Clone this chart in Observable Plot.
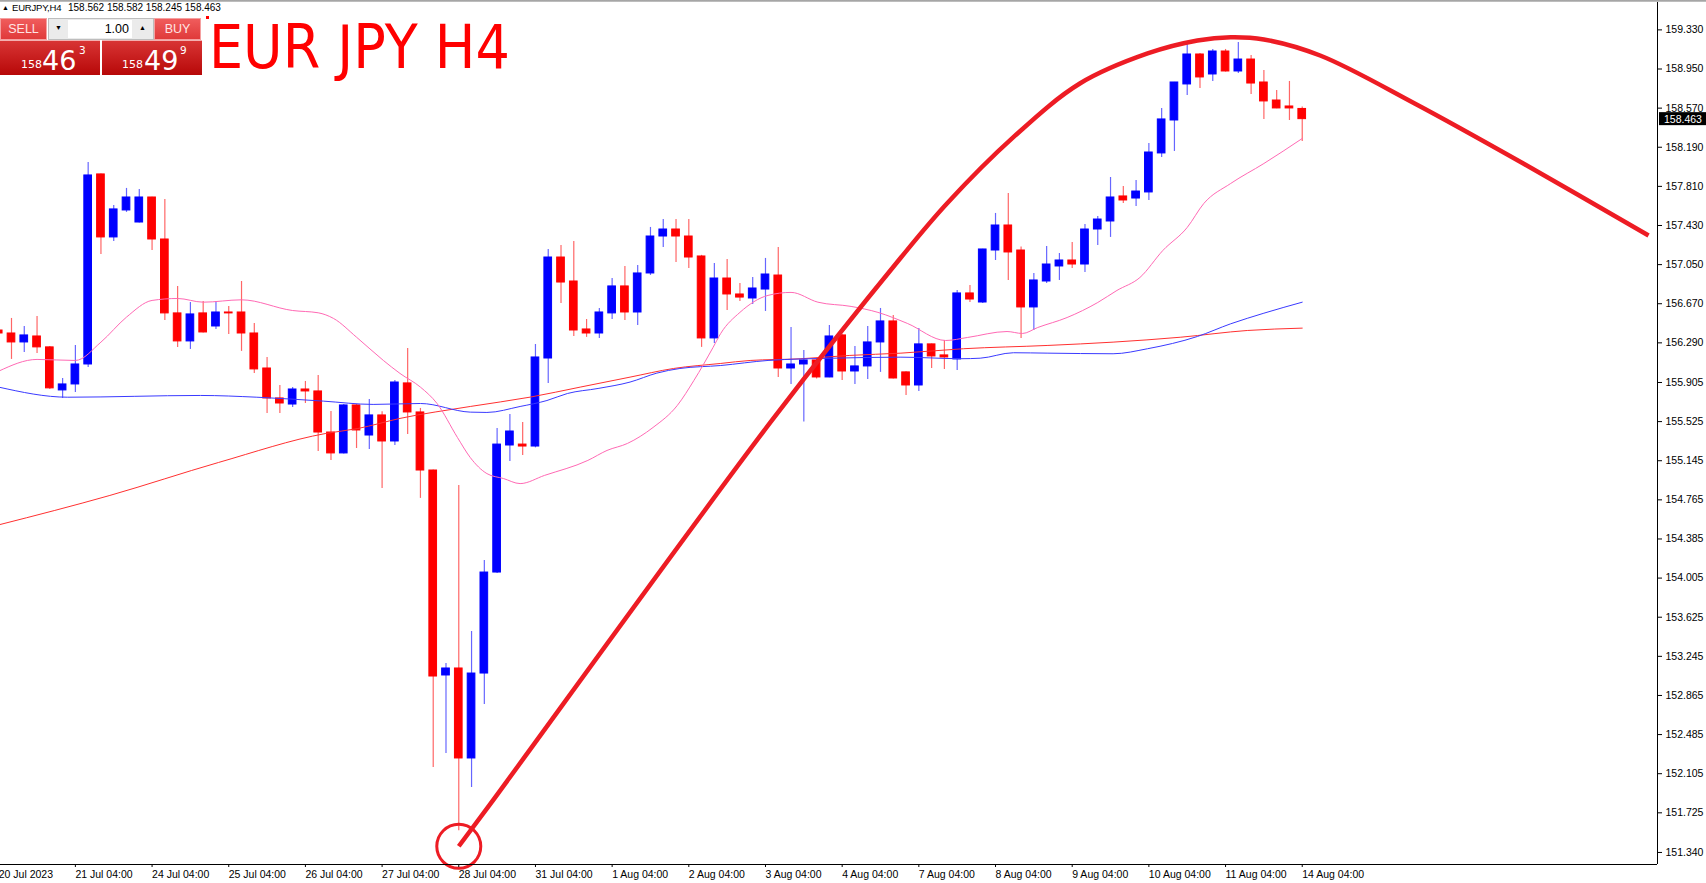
<!DOCTYPE html>
<html><head><meta charset="utf-8">
<script src="https://cdn.jsdelivr.net/npm/d3@7"></script>
<script src="https://cdn.jsdelivr.net/npm/@observablehq/plot@0.6"></script>
<style>
html,body{margin:0;padding:0;background:#fff;}
#wrap{position:relative;width:1706px;height:883px;overflow:hidden;background:#fff;font-family:"Liberation Sans",Arial,sans-serif;}
#wrap svg{position:absolute;left:0;top:0;}
.abs{position:absolute;white-space:nowrap;line-height:1;}
.topline{position:absolute;left:0;top:0;width:1706px;height:2px;background:linear-gradient(#9a9a9a,#c8c8c8);}
.hdr{font-size:10px;color:#000;top:3px;}
.btn{position:absolute;top:18px;height:22px;width:47px;background:linear-gradient(#f05c5c,#e03a3a);color:#ffe4e4;font-size:12.5px;text-align:center;line-height:21px;box-sizing:border-box;border:1px solid #f5a0a0;}
.lot{position:absolute;left:48px;top:18px;width:106px;height:22px;background:#ebebeb;border:1px solid #bdbdbd;box-sizing:border-box;}
.lotin{position:absolute;left:19px;top:1px;width:64px;height:18px;background:#fff;font-size:12.5px;text-align:right;line-height:19px;box-sizing:border-box;padding-right:3px;color:#000;}
.arr{position:absolute;top:5px;font-size:7px;color:#000;}
.price{position:absolute;top:40px;height:35px;width:100px;background:linear-gradient(#d83434,#b70808);color:#fff;border-top:1px solid #f3b0b0;box-sizing:border-box;font-family:"DejaVu Sans","Liberation Sans",sans-serif;}
.title{font-family:"DejaVu Sans","Liberation Sans",sans-serif;font-size:60px;color:#ff0000;left:209px;top:17px;transform:scaleX(0.9);transform-origin:0 0;}
.dot{position:absolute;left:206px;top:16px;width:3px;height:3px;background:#ff0000;}
</style></head><body>
<div id="wrap"></div>
<script>
// ---- candle data (EURJPY H4, 20 Jul 2023 04:00 .. 14 Aug 2023 04:00) ----
const open  = [156.410,156.381,156.294,156.352,156.246,155.828,155.886,156.080,157.926,157.314,157.576,157.459,157.702,157.294,156.576,156.304,156.576,156.449,156.585,156.585,156.381,156.041,155.750,155.691,155.837,155.818,155.419,155.216,155.682,155.390,155.585,155.332,155.896,155.614,155.050,153.059,153.127,152.253,153.078,154.059,155.293,155.302,155.283,156.138,157.119,156.886,156.420,156.381,156.576,156.838,156.585,156.964,157.323,157.391,157.323,157.129,156.333,156.915,156.760,156.721,156.808,156.944,156.041,156.080,156.119,155.954,156.362,156.012,156.061,156.294,156.498,156.003,155.876,156.275,156.168,156.129,156.770,156.682,157.187,157.430,157.187,156.634,156.886,157.032,157.090,157.051,157.391,157.469,157.712,157.692,157.751,158.130,158.450,158.800,159.091,158.897,159.120,158.926,159.042,158.819,158.644,158.586,158.562];
const high  = [156.430,156.527,156.449,156.546,156.255,155.944,156.265,158.042,157.930,157.625,157.790,157.780,157.705,157.683,156.838,156.682,156.692,156.692,156.643,156.886,156.478,156.148,155.876,155.857,155.915,155.973,155.624,155.690,155.690,155.740,155.620,155.925,156.236,155.653,155.055,153.175,154.905,153.486,154.176,155.458,155.595,155.517,156.274,157.197,157.236,157.275,156.517,156.624,156.915,157.032,157.042,157.411,157.488,157.488,157.488,157.140,157.061,157.100,156.867,156.925,157.110,157.216,156.439,156.216,156.140,156.459,156.370,156.255,156.449,156.624,156.556,156.010,156.430,156.280,156.313,156.799,156.847,157.200,157.547,157.741,157.220,156.964,157.226,157.158,157.265,157.440,157.517,157.896,157.809,157.867,158.227,158.567,158.820,159.198,159.100,159.140,159.140,159.208,159.081,158.936,158.741,158.829,158.582];
const low   = [156.360,156.129,156.197,156.187,155.838,155.750,155.808,156.051,157.149,157.275,157.557,157.455,157.187,156.508,156.246,156.226,156.385,156.420,156.372,156.207,155.993,155.604,155.604,155.662,155.701,155.235,155.148,155.210,155.264,155.254,154.876,155.293,155.400,154.779,152.166,152.302,151.550,151.971,152.777,154.050,155.138,155.196,155.270,155.896,156.672,156.352,156.343,156.333,156.517,156.508,156.459,156.945,157.216,157.071,157.013,156.246,156.284,156.604,156.692,156.663,156.595,155.954,155.886,155.520,155.940,155.950,155.925,155.886,155.935,156.003,155.940,155.779,155.818,156.041,156.032,156.022,156.682,156.672,157.090,156.896,156.333,156.410,156.867,156.896,157.013,156.974,157.236,157.314,157.644,157.615,157.673,158.091,158.149,158.693,158.761,158.829,158.920,158.906,158.703,158.460,158.563,158.450,158.245];
const close = [156.381,156.294,156.362,156.246,155.848,155.886,156.080,157.916,157.314,157.586,157.702,157.702,157.294,156.576,156.304,156.566,156.391,156.585,156.576,156.381,156.032,155.750,155.701,155.837,155.818,155.419,155.216,155.682,155.439,155.585,155.332,155.905,155.614,155.050,153.049,153.127,152.253,153.078,154.059,155.302,155.429,155.283,156.148,157.119,156.876,156.410,156.381,156.585,156.838,156.585,156.964,157.323,157.391,157.323,157.119,156.333,156.915,156.760,156.730,156.818,156.954,156.041,156.080,156.119,155.954,156.352,156.012,156.061,156.294,156.498,155.944,155.876,156.275,156.158,156.148,156.770,156.711,157.197,157.430,157.168,156.634,156.896,157.051,157.090,157.051,157.391,157.488,157.702,157.673,157.760,158.139,158.460,158.819,159.091,158.868,159.120,158.926,159.042,158.809,158.635,158.567,158.567,158.463];

// ---- moving averages (bar index, price) ----
const pinkIdx = [0,3,6,8,10,12,14,16,19,23,25,26.2,28,30.1,31.4,33,34.3,35.9,36.9,38.2,39.5,40.8,42.7,46.1,47.6,49.2,51.2,53.1,54.4,55.9,56.5,58,60.2,62,64.1,66.7,68.8,71.1,74.1,75.8,78.9,80.1,81.3,83.6,86,87.5,89.3,91.1,93,94.3,96.4,99,102];
const pinkVal = [156.015,156.129,156.119,156.297,156.540,156.702,156.721,156.685,156.708,156.604,156.582,156.527,156.345,156.119,155.993,155.860,155.701,155.370,155.176,155.020,154.972,154.923,155.002,155.148,155.245,155.313,155.468,155.682,155.925,156.246,156.382,156.586,156.751,156.780,156.685,156.644,156.586,156.479,156.313,156.342,156.400,156.381,156.439,156.536,156.682,156.799,156.925,157.188,157.411,157.644,157.838,158.032,158.275];
const blueIdx = [0,5.4,15.8,20.2,25.4,29.3,33,36.9,38.2,40.8,42.9,44.5,46.9,49.4,51.5,53.3,56.5,60.2,65.3,70.6,75.3,76.8,79.4,82.1,87.2,89.9,93.8,96.4,99,102];
const blueVal = [155.860,155.762,155.779,155.762,155.724,155.692,155.701,155.617,155.614,155.672,155.730,155.798,155.847,155.909,155.996,156.041,156.070,156.119,156.141,156.151,156.136,156.141,156.194,156.190,156.184,156.233,156.352,156.475,156.578,156.685];
const redIdx  = [0,8.7,17.2,25.6,28.1,31.4,36.9,41.6,45.5,49.4,52.8,56.5,58.8,62.7,66.6,70.6,75.5,82.1,87.2,92.5,97.7,102];
const redVal  = [154.522,154.808,155.128,155.410,155.458,155.556,155.672,155.763,155.860,155.957,156.041,156.090,156.119,156.135,156.168,156.190,156.233,156.265,156.297,156.345,156.410,156.433];

// ---- hand-drawn annotation (bar index, price) ----
const arcIdx   = [36,38.4,60.5,70.6,74.2,79.4,84.6,89.9,93.8,96.4,99,103.4,110.8,119.3,129.1];
const arcPrice = [151.40,151.80,155.536,157.119,157.644,158.288,158.809,159.101,159.227,159.259,159.237,159.081,158.615,158.032,157.333];
const circleIdx = [36];
const circlePrice = [151.40];

// ---- axes ----
const xTickIdx = [0,6,12,18,24,30,36,42,48,54,60,66,72,78,84,90,96,102];
const xTickLabels = ["20 Jul 2023","21 Jul 04:00","24 Jul 04:00","25 Jul 04:00","26 Jul 04:00","27 Jul 04:00","28 Jul 04:00","31 Jul 04:00","1 Aug 04:00","2 Aug 04:00","3 Aug 04:00","4 Aug 04:00","7 Aug 04:00","8 Aug 04:00","9 Aug 04:00","10 Aug 04:00","11 Aug 04:00","14 Aug 04:00"];
const yTicks = [159.330,158.950,158.570,158.190,157.810,157.430,157.050,156.670,156.290,155.905,155.525,155.145,154.765,154.385,154.005,153.625,153.245,152.865,152.485,152.105,151.725,151.340];

const symbol = "EURJPY,H4";
const bid = 158.463, ask = 158.499;
const lot = "1.00";

// ---- build ----
const candles = open.map((o,i)=>({i, o, h:high[i], l:low[i], c:close[i]}));
const bull = candles.filter(d=>d.c>=d.o);
const bear = candles.filter(d=>d.c<d.o);
const pts = (xs,ys)=>xs.map((k,j)=>({k, p:ys[j]}));
const labelOf = new Map(xTickIdx.map((k,j)=>[k,xTickLabels[j]]));

const X_DOMAIN = [0.14, 129.8];
const Y_DOMAIN = [151.223, 159.596];
const BLUE = "#0000ff", RED = "#ff0000", ANN = "#ed1c24";

const chart = Plot.plot({
  width: 1706, height: 883,
  marginLeft: 0, marginRight: 49, marginTop: 2, marginBottom: 19,
  x: {domain: X_DOMAIN},
  y: {domain: Y_DOMAIN},
  style: {fontFamily: "Liberation Sans, Arial, sans-serif", fontSize: "10.5px", color: "#000", background: "transparent"},
  marks: [
    Plot.ruleX(bull, {x:"i", y1:"l", y2:"h", stroke: BLUE, strokeOpacity: 0.6, strokeWidth: 1.2}),
    Plot.ruleX(bear, {x:"i", y1:"l", y2:"h", stroke: RED, strokeOpacity: 0.6, strokeWidth: 1.2}),
    Plot.rect(bull, {x1: d=>d.i-0.3, x2: d=>d.i+0.3, y1:"o", y2:"c", fill: BLUE, stroke: BLUE, strokeWidth: 1}),
    Plot.rect(bear, {x1: d=>d.i-0.3, x2: d=>d.i+0.3, y1:"o", y2:"c", fill: RED, stroke: RED, strokeWidth: 1}),
    Plot.line(pts(redIdx, redVal), {x:"k", y:"p", stroke:"#ff3030", strokeWidth:1, curve:"monotone-x"}),
    Plot.line(pts(blueIdx, blueVal), {x:"k", y:"p", stroke:"#3a3aff", strokeWidth:1, curve:"monotone-x"}),
    Plot.line(pts(pinkIdx, pinkVal), {x:"k", y:"p", stroke:"#ff69b4", strokeWidth:1, curve:"monotone-x"}),
    Plot.line(pts(arcIdx, arcPrice), {x:"k", y:"p", stroke: ANN, strokeWidth: 4.5, curve:"catmull-rom", strokeLinecap:"butt"}),
    Plot.dot(pts(circleIdx, circlePrice), {x:"k", y:"p", r: 22, stroke: ANN, strokeWidth: 3, fill:"none"}),
    Plot.ruleY([Y_DOMAIN[0]], {stroke:"#000", strokeWidth:1}),
    Plot.ruleX([X_DOMAIN[1]], {stroke:"#000", strokeWidth:1}),
    Plot.axisY(yTicks, {anchor:"right", tickFormat: d3.format(".3f"), tickSize: 4, tickPadding: 4, fill:"#000"}),
    Plot.axisX(xTickIdx, {anchor:"bottom", tickFormat: k=>labelOf.get(k), textAnchor:"start", tickSize: 3, tickPadding: 3, fill:"#000"})
  ]
});

const wrap = document.getElementById("wrap");
wrap.appendChild(chart);

// current price label on the price axis
const yy = chart.scale("y").apply(close[close.length-1]);
const svg = d3.select(chart);
svg.append("rect").attr("x", 1659).attr("y", yy-6.5).attr("width", 47).attr("height", 13).attr("fill", "#000");
svg.append("text").attr("x", 1664).attr("y", yy+4).attr("fill", "#fff").attr("text-anchor","start")
  .attr("font-family","Liberation Sans, Arial, sans-serif").attr("font-size","10.5px")
  .text(d3.format(".3f")(close[close.length-1]));

// ---- overlay panel (MT4 header + one-click trading) ----
const f3 = d3.format(".3f");
const last = close.length-1;
function priceParts(v){ const s = f3(v); const [a,b] = s.split("."); return [a, b.slice(0,2), b.slice(2)]; }
const sp = priceParts(bid), bp = priceParts(ask);
wrap.insertAdjacentHTML("beforeend", `
 <div class="topline"></div>
 <div class="abs hdr" style="left:2px;top:4px;font-size:7px;">&#9650;</div>
 <div class="abs hdr" style="left:12px;font-size:9.5px;letter-spacing:-0.2px;">${symbol}</div>
 <div class="abs hdr" style="left:68px;">${[open[last],high[last],low[last],close[last]].map(f3).join(" ")}</div>
 <div class="btn" style="left:0px;">SELL</div>
 <div class="lot"><span class="arr" style="left:6px;">&#9660;</span><div class="lotin">${lot}</div><span class="arr" style="left:90px;">&#9650;</span></div>
 <div class="btn" style="left:154px;">BUY</div>
 <div class="price" style="left:0px;">
   <span class="abs" style="left:21px;top:18px;font-size:11px;">${sp[0]}</span>
   <span class="abs" style="left:42px;top:6px;font-size:27px;">${sp[1]}</span>
   <span class="abs" style="left:79px;top:4px;font-size:10.5px;">${sp[2]}</span>
 </div>
 <div class="price" style="left:102px;">
   <span class="abs" style="left:20px;top:18px;font-size:11px;">${bp[0]}</span>
   <span class="abs" style="left:42px;top:6px;font-size:27px;">${bp[1]}</span>
   <span class="abs" style="left:78px;top:4px;font-size:10.5px;">${bp[2]}</span>
 </div>
 <div class="dot"></div>
 <div class="abs title">EUR JPY H4</div>
`);
</script>
</body></html>
